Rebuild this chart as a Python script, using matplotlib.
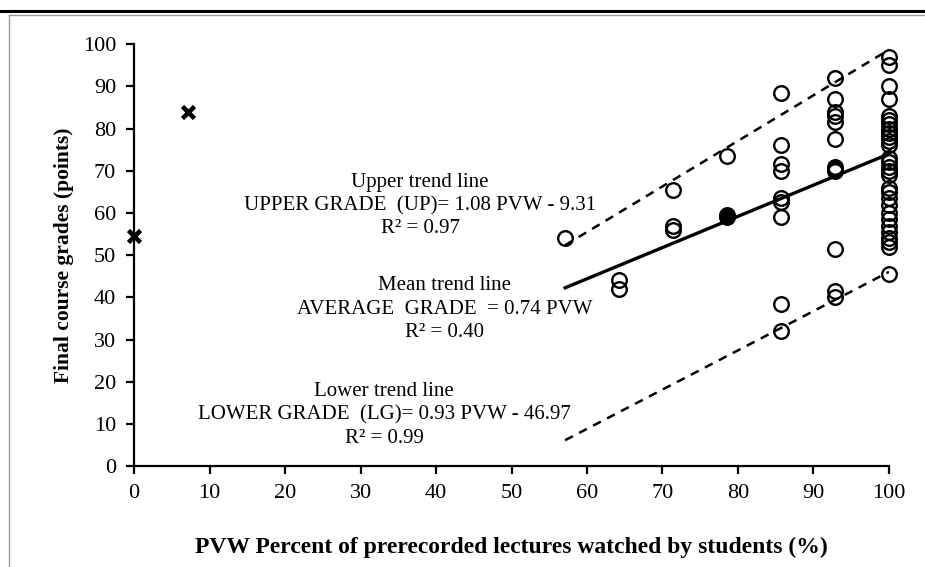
import matplotlib
matplotlib.use("Agg")
import matplotlib.pyplot as plt
from matplotlib.lines import Line2D

plt.rcParams['font.family'] = ['Liberation Serif', 'DejaVu Serif']

# students grouped by PVW (% of prerecorded lectures watched)
pvw_groups = [57.1, 64.3, 71.4, 78.6, 85.7, 92.9, 100.0]
grades_by_group = [
    [54.0],
    [44.0, 42.0],
    [65.5, 57.0, 56.0],
    [73.5, 59.0],
    [88.5, 76.0, 71.5, 70.0, 63.5, 62.5, 59.0, 38.5, 32.0],
    [92.0, 87.0, 84.0, 83.0, 81.5, 77.5, 71.0, 70.5, 70.0, 51.5, 41.5, 40.0],
    [97.0, 95.0, 90.0, 87.0, 83.0, 82.0, 81.0, 80.0, 79.0, 78.0, 77.0, 76.0,
     73.0, 72.0, 71.0, 70.0, 69.0, 66.0, 65.0, 63.5, 62.0, 60.0, 58.5, 57.0,
     55.5, 54.0, 53.0, 52.0, 45.5],
]
# several students on top of each other (drawn as a solid dot)
stacked_x = [78.6]
stacked_y = [59.5]

# outliers (marked with x)
outlier_x = [0.0, 7.1]
outlier_y = [54.5, 84.0]

# trend lines: slope, intercept
trend_x = [57.1, 100.0]
upper_coef = (1.08, -9.31)
mean_coef = (0.74, 0.0)
lower_coef = (0.93, -46.97)

xticks = list(range(0, 101, 10))
yticks = list(range(0, 101, 10))

fig = plt.figure(figsize=(9.25, 5.67), dpi=100)
ax = fig.add_axes([0.145, 0.178, 0.816, 0.744])

xs, ys = [], []
for x, g in zip(pvw_groups, grades_by_group):
    xs += [x] * len(g)
    ys += g
ax.plot(xs, ys, 'o', mfc='none', mec='black', ms=10.5, mew=1.7, clip_on=False)
ax.plot(stacked_x, stacked_y, 'o', mfc='black', mec='black', ms=10.5, mew=1.7)
ax.plot(outlier_x, outlier_y, 'x', color='black', ms=8.5, mew=3.3, clip_on=False)

dash = (0, (3.5, 2.8))
for (m, b), ls, lw in [(upper_coef, dash, 1.8), (mean_coef, '-', 2.4), (lower_coef, dash, 1.8)]:
    ax.plot(trend_x, [m * x + b for x in trend_x], color='black', linestyle=ls, linewidth=lw)

ax.set_xlim(0, 100)
ax.set_ylim(0, 100)
ax.set_xticks(xticks)
ax.set_yticks(yticks)
ax.spines['top'].set_visible(False)
ax.spines['right'].set_visible(False)
for s in ['left', 'bottom']:
    ax.spines[s].set_linewidth(1.6)
ax.tick_params(direction='out', length=6, width=1.6, labelsize=16, pad=7)

ax.set_xlabel('PVW Percent of prerecorded lectures watched by students (%)',
              fontsize=17, fontweight='bold', labelpad=24)
ax.set_ylabel('Final course grades (points)', fontsize=15.5, fontweight='bold', labelpad=6)

kw = dict(ha='center', va='center', fontsize=15, linespacing=1.3)
ax.text(37.9, 61.8, 'Upper trend line\nUPPER GRADE  (UP)= 1.08 PVW - 9.31\nR² = 0.97', **kw)
ax.text(41.1, 37.2, 'Mean trend line\nAVERAGE  GRADE  = 0.74 PVW\nR² = 0.40', **kw)
ax.text(33.1, 12.1, 'Lower trend line\nLOWER GRADE  (LG)= 0.93 PVW - 46.97\nR² = 0.99', **kw)

# frame lines around the figure
fig.add_artist(Line2D([0, 1], [1 - 10.5 / 567] * 2, color='black', lw=2.2, transform=fig.transFigure))
fig.add_artist(Line2D([0.0097, 1], [1 - 14.5 / 567] * 2, color='#999999', lw=1.0, transform=fig.transFigure))
fig.add_artist(Line2D([0.0097, 0.0097], [0, 1 - 14.5 / 567], color='#999999', lw=1.0, transform=fig.transFigure))

fig.savefig('out.png', dpi=100)
